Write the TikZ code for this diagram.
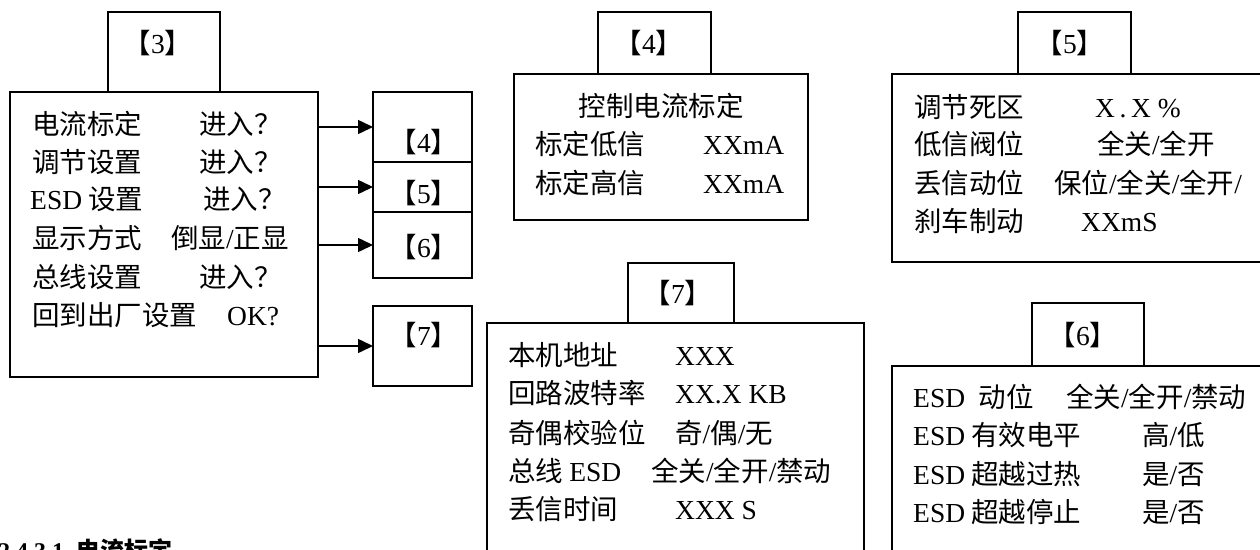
\documentclass[tikz,border=0pt]{standalone}
\usepackage{fontspec}
\setmainfont{Noto Sans CJK SC}
\newfontfamily\latin{Liberation Serif}
\newcommand\lt[1]{{\latin #1}}
\usetikzlibrary{arrows.meta}

\begin{document}
\begin{tikzpicture}[x=1pt, y=-1pt,
        box/.style={draw, line width=1.5pt, inner sep=0pt, outer sep=0pt, anchor=north west},
        txt/.style={anchor=base west, inner sep=0pt, font=\fontsize{27.5}{30}\selectfont},
        tag/.style={anchor=base, inner sep=0pt, font=\fontsize{27.5}{30}\selectfont},
        arr/.style={line width=1.5pt, -{Triangle[length=15pt,width=14pt]}}]
            \useasboundingbox (0,0) rectangle (1260,549);

            % menu [3] and its sub boxes
            \node[box, minimum width=112pt, minimum height=80pt] (t3) at (108,12) {};
            \node[box, minimum width=308pt, minimum height=285pt] (m3) at (10,92) {};
            \node[box, minimum width=99pt, minimum height=70pt] (s4) at (373,92) {};
            \node[box, minimum width=99pt, minimum height=50pt] (s5) at (373,162) {};
            \node[box, minimum width=99pt, minimum height=66pt] (s6) at (373,212) {};
            \node[box, minimum width=99pt, minimum height=80pt] (s7) at (373,306) {};

            % panels [4] [5] [7] [6]
            \node[box, minimum width=113pt, minimum height=62pt] (t4) at (598,12) {};
            \node[box, minimum width=294pt, minimum height=146pt] (m4) at (514,74) {};
            \node[box, minimum width=113pt, minimum height=62pt] (t5) at (1018,12) {};
            \node[box, minimum width=400pt, minimum height=188pt] (m5) at (892,74) {};
            \node[box, minimum width=106pt, minimum height=60pt] (t7) at (628,263) {};
            \node[box, minimum width=377pt, minimum height=260pt] (m7) at (487,323) {};
            \node[box, minimum width=112pt, minimum height=63pt] (t6) at (1032,303) {};
            \node[box, minimum width=400pt, minimum height=220pt] (m6) at (892,366) {};

            % tags
            \node[tag] (l3) at (158,53) {【\lt{3}】};
            \node[tag] (l4s) at (424,152) {【\lt{4}】};
            \node[tag] (l5s) at (424,203) {【\lt{5}】};
            \node[tag] (l6s) at (424,257) {【\lt{6}】};
            \node[tag] (l7s) at (424,345) {【\lt{7}】};
            \node[tag] (l4) at (649,53) {【\lt{4}】};
            \node[tag] (l5) at (1070,53) {【\lt{5}】};
            \node[tag] (l7) at (678,303) {【\lt{7}】};
            \node[tag] (l6) at (1083,345) {【\lt{6}】};

            % menu [3] lines
            \node[txt] (m3r1) at (32,134) {电流标定};
            \node[txt] (m3v1) at (199,134) {进入？};
            \node[txt] (m3r2) at (32,172) {调节设置};
            \node[txt] (m3v2) at (199,172) {进入？};
            \node[txt] (m3r3) at (30,209) {\lt{ESD} 设置};
            \node[txt] (m3v3) at (203,209) {进入？};
            \node[txt] (m3r4) at (32,248) {显示方式};
            \node[txt] (m3v4) at (171,248) {倒显\lt{/}正显};
            \node[txt] (m3r5) at (32,287) {总线设置};
            \node[txt] (m3v5) at (199,287) {进入？};
            \node[txt] (m3r6) at (32,325) {回到出厂设置};
            \node[txt] (m3v6) at (227,325) {\lt{OK?}};

            % panel [4] lines
            \node[tag] (m4h) at (661,116) {控制电流标定};
            \node[txt] (m4r1) at (535,154) {标定低信};
            \node[txt] (m4v1) at (703,154) {\lt{XXmA}};
            \node[txt] (m4r2) at (535,193) {标定高信};
            \node[txt] (m4v2) at (703,193) {\lt{XXmA}};

            % panel [5] lines
            \node[txt] (m5r1) at (914,117) {调节死区};
            \node[txt] (m5v1) at (1095,117) {\lt{X\,.\,X \%}};
            \node[txt] (m5r2) at (914,154) {低信阀位};
            \node[txt] (m5v2) at (1097,154) {全关\lt{/}全开};
            \node[txt] (m5r3) at (914,193) {丢信动位};
            \node[txt] (m5v3) at (1054,193) {保位\lt{/}全关\lt{/}全开\lt{/}};
            \node[txt] (m5r4) at (914,231) {刹车制动};
            \node[txt] (m5v4) at (1081,231) {\lt{XXmS}};

            % panel [7] lines
            \node[txt] (m7r1) at (508,365) {本机地址};
            \node[txt] (m7v1) at (675,365) {\lt{XXX}};
            \node[txt] (m7r2) at (508,403) {回路波特率};
            \node[txt] (m7v2) at (675,403) {\lt{XX.X KB}};
            \node[txt] (m7r3) at (508,443) {奇偶校验位};
            \node[txt] (m7v3) at (675,443) {奇\lt{/}偶\lt{/}无};
            \node[txt] (m7r4) at (508,481) {总线 \lt{ESD}};
            \node[txt] (m7v4) at (651,481) {全关\lt{/}全开\lt{/}禁动};
            \node[txt] (m7r5) at (508,519) {丢信时间};
            \node[txt] (m7v5) at (675,519) {\lt{XXX S}};

            % panel [6] lines
            \node[txt] (m6r1) at (913,407) {\lt{ESD\ \ }动位};
            \node[txt] (m6v1) at (1066,407) {全关\lt{/}全开\lt{/}禁动};
            \node[txt] (m6r2) at (913,445) {\lt{ESD} 有效电平};
            \node[txt] (m6v2) at (1142,445) {高\lt{/}低};
            \node[txt] (m6r3) at (913,484) {\lt{ESD} 超越过热};
            \node[txt] (m6v3) at (1142,484) {是\lt{/}否};
            \node[txt] (m6r4) at (913,522) {\lt{ESD} 超越停止};
            \node[txt] (m6v4) at (1142,522) {是\lt{/}否};

            % heading cut by the page edge
            \node[txt, font=\fontsize{24}{26}\selectfont\bfseries] (sec) at (-2,559) {\lt{2.4.3.1}\hspace{12pt}电流标定};

            \draw[arr] (m3.east |- s4.west) -- (s4.west);
            \draw[arr] (m3.east |- s5.west) -- (s5.west);
            \draw[arr] (m3.east |- s6.west) -- (s6.west);
            \draw[arr] (m3.east |- s7.west) -- (s7.west);

        \end{tikzpicture}
\end{document}
